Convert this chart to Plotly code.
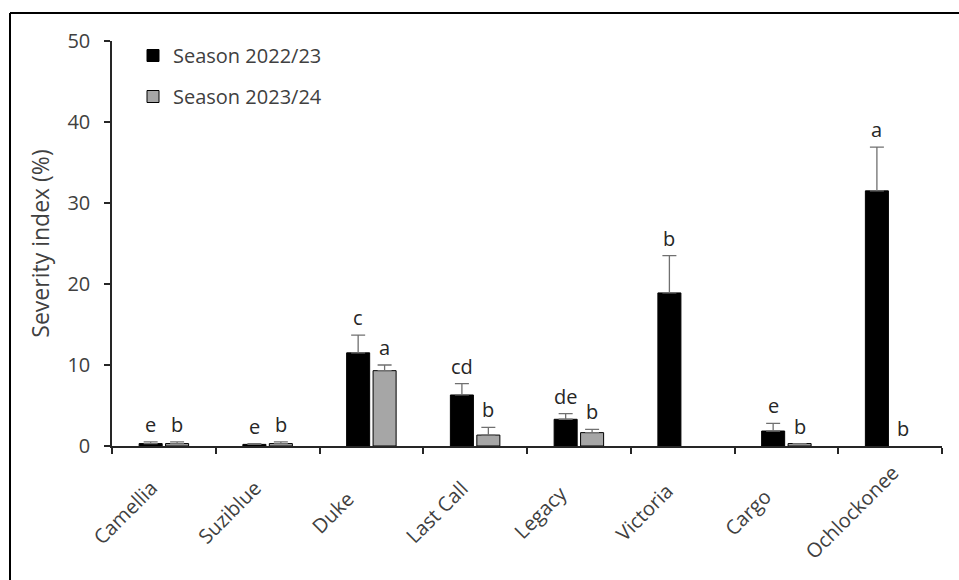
import plotly.graph_objects as go

categories = ["Camellia", "Suziblue", "Duke", "Last Call", "Legacy", "Victoria", "Cargo", "Ochlockonee"]
season1_name = "Season 2022/23"
season2_name = "Season 2023/24"
season1 = [0.3, 0.2, 11.5, 6.3, 3.3, 18.9, 1.85, 31.5]
season1_err = [0.2, 0.1, 2.2, 1.4, 0.7, 4.6, 0.95, 5.4]
season2 = [0.3, 0.3, 9.3, 1.35, 1.65, 0.0, 0.3, 0.0]
season2_err = [0.2, 0.2, 0.7, 0.95, 0.4, 0.0, 0.0, 0.0]
season1_letters = ["e", "e", "c", "cd", "de", "b", "e", "a"]
season2_letters = ["b", "b", "a", "b", "b", "", "b", "b"]
y_ticks = [0, 10, 20, 30, 40, 50]
y_title = "Severity index (%)"

FONT = "Open Sans"
TXT = "#404040"
W, H = 959, 580
ML, MR, MT, MB = 112, 17, 41, 134
PW = W - ML - MR
PH = H - MT - MB


def shown(vals):
    # zero values are not drawn at all (no outline, no error cap)
    return [v if v > 0 else None for v in vals]


fig = go.Figure()
fig.add_trace(go.Bar(
    x=categories, y=shown(season1), name=season1_name, legendgroup="s1",
    marker=dict(color="#000000", line=dict(color="#000000", width=1)),
    error_y=dict(type="data", array=shown(season1_err), symmetric=False,
                 arrayminus=[0] * len(season1), color="#707070", thickness=1.3, width=7),
))
fig.add_trace(go.Bar(
    x=categories, y=shown(season2), name=season2_name, legendgroup="s2",
    marker=dict(color="#a6a6a6", line=dict(color="#000000", width=1)),
    error_y=dict(type="data", array=shown(season2_err), symmetric=False,
                 arrayminus=[0] * len(season2), color="#707070", thickness=1.3, width=7),
))

bargap = 0.49
bargroupgap = 0.13
cat_px = PW / len(categories)
shift = (1 - bargap) * cat_px / 4

annotations = []
for vals, errs, letters, sgn in ((season1, season1_err, season1_letters, -1),
                                 (season2, season2_err, season2_letters, 1)):
    for c, v, e, t in zip(categories, vals, errs, letters):
        if t:
            annotations.append(dict(x=c, y=v + e, text=t, xref="x", yref="y", showarrow=False,
                                    xshift=sgn * shift, yanchor="bottom", yshift=2,
                                    font=dict(family=FONT, size=20, color="#262626")))

# category labels, rotated -45 deg and centred below each category (Excel style)
label_y = (H - MB - 512) / PH
for c in categories:
    annotations.append(dict(x=c, y=label_y, xref="x", yref="paper", text=c, showarrow=False,
                            textangle=-45, xanchor="center", yanchor="middle", xshift=-39,
                            font=dict(family=FONT, size=20, color=TXT)))

# outer chart border (left and top edges visible)
bx = (10 - ML) / PW
by = (H - MB - 13) / PH
shapes = [
    dict(type="line", xref="paper", yref="paper", x0=bx, x1=bx, y0=-0.5, y1=by,
         line=dict(color="#000000", width=2)),
    dict(type="line", xref="paper", yref="paper", x0=bx, x1=1.2, y0=by, y1=by,
         line=dict(color="#000000", width=2)),
]

fig.update_layout(
    width=W, height=H,
    margin=dict(l=ML, r=MR, t=MT, b=MB, autoexpand=False),
    paper_bgcolor="white", plot_bgcolor="white",
    barmode="group", bargap=bargap, bargroupgap=bargroupgap,
    font=dict(family=FONT, size=20, color=TXT),
    showlegend=True,
    legend=dict(x=(133 - ML) / PW, y=(H - MB - 36) / PH, xanchor="left", yanchor="top",
                bgcolor="rgba(0,0,0,0)", font=dict(family=FONT, size=20, color=TXT),
                tracegroupgap=12, itemwidth=30, traceorder="grouped"),
    annotations=annotations,
    shapes=shapes,
    xaxis=dict(
        type="category", categoryorder="array", categoryarray=categories,
        range=[-0.5, len(categories) - 0.5],
        showline=True, linecolor="#262626", linewidth=1.5,
        ticks="outside", ticklen=6, tickcolor="#262626", tickwidth=1.5,
        tickson="boundaries", showticklabels=False, showgrid=False, zeroline=False,
        automargin=False,
    ),
    yaxis=dict(
        range=[0, 50], tickvals=y_ticks, showline=True, linecolor="#262626", linewidth=1.5,
        ticks="outside", ticklen=6, tickcolor="#262626", tickwidth=1.5,
        showgrid=False, zeroline=False, ticklabelstandoff=10, automargin=False,
        tickfont=dict(family=FONT, size=20, color=TXT),
        title=dict(text=y_title, font=dict(family=FONT, size=23, color=TXT), standoff=11),
    ),
)

fig.write_html("out.html")
